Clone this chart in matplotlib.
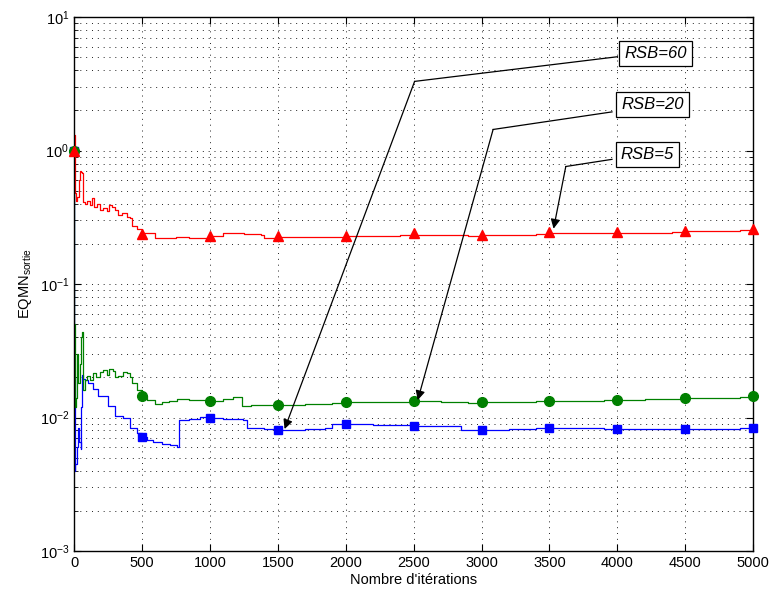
import matplotlib
matplotlib.use("Agg")
import matplotlib.pyplot as plt
from matplotlib.ticker import LogLocator, MultipleLocator, NullFormatter

plt.rcParams['font.family'] = ['Liberation Sans', 'DejaVu Sans']
plt.rcParams['mathtext.fontset'] = 'custom'
plt.rcParams['mathtext.rm'] = 'Liberation Sans'
plt.rcParams['mathtext.it'] = 'Liberation Sans:italic'

# ---- data ----
x_rsb5 = [0, 2, 4, 8, 15, 25, 35, 45, 52, 60, 66, 80, 95, 115, 130, 150, 170, 190, 215, 240, 260, 280, 300,
          325, 350, 390, 410, 427, 460, 500, 540, 597, 650, 750, 850, 1000, 1100, 1250, 1380, 1400, 1500,
          1700, 1900, 2000, 2200, 2400, 2500, 2700, 2900, 3000, 3200, 3400, 3500, 3700, 3900, 4000, 4200,
          4400, 4500, 4700, 4900, 5000]
y_rsb5 = [1.0, 1.3, 0.9, 0.48, 0.42, 0.45, 0.60, 0.70, 0.69, 0.68, 0.41, 0.40, 0.42, 0.39, 0.44, 0.38,
          0.40, 0.36, 0.37, 0.35, 0.39, 0.38, 0.36, 0.33, 0.34, 0.32, 0.31, 0.27, 0.26, 0.243, 0.24, 0.22,
          0.222, 0.224, 0.222, 0.23, 0.24, 0.238, 0.235, 0.223, 0.225, 0.224, 0.226, 0.228, 0.23, 0.232,
          0.235, 0.233, 0.231, 0.232, 0.235, 0.237, 0.24, 0.24, 0.242, 0.241, 0.243, 0.245, 0.248, 0.25,
          0.253, 0.256]

x_rsb20 = [0, 3, 8, 15, 20, 30, 45, 52, 58, 63, 68, 80, 95, 115, 140, 165, 190, 215, 240, 260, 285, 300,
           325, 360, 390, 410, 427, 460, 500, 540, 597, 650, 700, 758, 850, 1000, 1100, 1170, 1237, 1300,
           1400, 1500, 1700, 1900, 2000, 2200, 2400, 2500, 2700, 2900, 3000, 3200, 3400, 3500, 3700, 3900,
           4000, 4200, 4400, 4500, 4700, 4900, 5000]
y_rsb20 = [1.0, 0.05, 0.012, 0.014, 0.030, 0.018, 0.025, 0.040, 0.044, 0.030, 0.016, 0.019, 0.0206, 0.019,
           0.0214, 0.020, 0.022, 0.0229, 0.021, 0.023, 0.0225, 0.020, 0.0206, 0.022, 0.0214, 0.020, 0.018,
           0.016, 0.0144, 0.0135, 0.0127, 0.013, 0.0133, 0.0137, 0.0135, 0.0134, 0.0138, 0.0142, 0.0123,
           0.0124, 0.0125, 0.0125, 0.0127, 0.0128, 0.013, 0.0131, 0.0131, 0.0132, 0.0131, 0.0129, 0.013,
           0.0131, 0.0133, 0.0134, 0.0134, 0.0135, 0.0136, 0.0137, 0.0138, 0.0139, 0.0141, 0.0142, 0.0144]

x_rsb60 = [0, 2, 5, 10, 20, 30, 40, 50, 55, 62, 68, 80, 100, 118, 140, 180, 215, 250, 300, 360, 412, 463,
           500, 540, 582, 650, 707, 758, 770, 850, 927, 1000, 1100, 1243, 1272, 1400, 1500, 1700, 1850,
           1900, 2000, 2200, 2400, 2500, 2700, 2850, 3000, 3200, 3400, 3500, 3700, 3900, 4000, 4200, 4400,
           4500, 4700, 4900, 5000]
y_rsb60 = [1.0, 0.02, 0.004, 0.0045, 0.006, 0.0084, 0.0065, 0.0058, 0.012, 0.021, 0.0195, 0.019, 0.018,
           0.018, 0.0164, 0.0146, 0.0146, 0.0123, 0.0103, 0.010, 0.0083, 0.0076, 0.0071, 0.0068, 0.0065,
           0.0063, 0.0062, 0.0060, 0.0095, 0.0097, 0.0101, 0.0100, 0.0098, 0.0095, 0.0083, 0.0082, 0.0081,
           0.0082, 0.0083, 0.0089, 0.0089, 0.0088, 0.0088, 0.0087, 0.0086, 0.0081, 0.0081, 0.0082, 0.0083,
           0.0084, 0.0083, 0.0082, 0.0082, 0.0082, 0.0082, 0.0082, 0.0082, 0.0083, 0.0083]

x_markers = [0, 500, 1000, 1500, 2000, 2500, 3000, 3500, 4000, 4500, 5000]
m_rsb5 = [1.0, 0.239, 0.23, 0.23, 0.231, 0.241, 0.233, 0.245, 0.245, 0.25, 0.258]
m_rsb20 = [1.0, 0.0144, 0.0134, 0.0125, 0.013, 0.0132, 0.013, 0.0134, 0.0135, 0.0139, 0.0144]
m_rsb60 = [1.0, 0.0071, 0.0100, 0.0081, 0.0089, 0.0087, 0.0081, 0.0084, 0.0082, 0.0082, 0.0083]

labels = ['RSB=60', 'RSB=20', 'RSB=5']

# ---- figure ----
fig = plt.figure(figsize=(7.71, 5.91), dpi=100)
ax = fig.add_axes([0.096, 0.0677, 0.881, 0.9033])

ax.plot(x_rsb60, y_rsb60, color='#0000ff', lw=0.9, drawstyle='steps-post')
ax.plot(x_rsb20, y_rsb20, color='#008000', lw=0.9, drawstyle='steps-post')
ax.plot(x_rsb5, y_rsb5, color='#ff0000', lw=0.9, drawstyle='steps-post')
ax.plot(x_markers, m_rsb60, ls='none', marker='s', ms=6, color='#0000ff', clip_on=False, zorder=3)
ax.plot(x_markers, m_rsb20, ls='none', marker='o', ms=7, color='#008000', clip_on=False, zorder=3)
ax.plot(x_markers, m_rsb5, ls='none', marker='^', ms=7.5, color='#ff0000', clip_on=False, zorder=3.1)

ax.set_yscale('log')
ax.set_xlim(0, 5000)
ax.set_ylim(1e-3, 1e1)
ax.xaxis.set_major_locator(MultipleLocator(500))
ax.yaxis.set_major_locator(LogLocator(base=10, numticks=10))
ax.yaxis.set_minor_locator(LogLocator(base=10, subs=range(2, 10), numticks=10))
ax.yaxis.set_minor_formatter(NullFormatter())

ax.grid(True, which='major', axis='both', ls=(0, (1, 5)), color='#222222', lw=0.7)
ax.grid(True, which='minor', axis='y', ls=(0, (1, 5)), color='#222222', lw=0.7)
ax.tick_params(which='both', direction='in', top=True, right=True, labelsize=10.5)
ax.tick_params(which='major', length=5)
ax.tick_params(which='minor', length=3)
for s in ax.spines.values():
    s.set_linewidth(1.0)

ax.set_xlabel("Nombre d'itérations", fontsize=10.5, labelpad=2)
ax.set_ylabel(r'EQMN$_{\mathregular{sortie}}$', fontsize=10.5, labelpad=4)

# ---- annotations ----
# (text centre, line start on box, elbow, arrow tip) in data coords
ann = [
    (labels[0], (4280, 5.3), (4000, 5.05), (2507, 3.3), (1550, 0.0082)),
    (labels[1], (4260, 2.2), (3960, 1.95), (3085, 1.44), (2530, 0.0135)),
    (labels[2], (4220, 0.93), (3960, 0.86), (3620, 0.76), (3530, 0.26)),
]
for txt, tpos, lstart, elbow, tip in ann:
    ax.plot([lstart[0], elbow[0]], [lstart[1], elbow[1]], color='black', lw=0.9, zorder=5)
    ax.annotate('', xy=tip, xytext=elbow,
                arrowprops=dict(arrowstyle='-|>', color='black', lw=0.9,
                                mutation_scale=14, shrinkA=0, shrinkB=0), zorder=5)
    ax.text(tpos[0], tpos[1], txt, fontsize=12, style='italic', ha='center', va='center', zorder=6,
            bbox=dict(boxstyle='square,pad=0.3', fc='white', ec='black', lw=0.9))

fig.savefig('out.png', dpi=100)
